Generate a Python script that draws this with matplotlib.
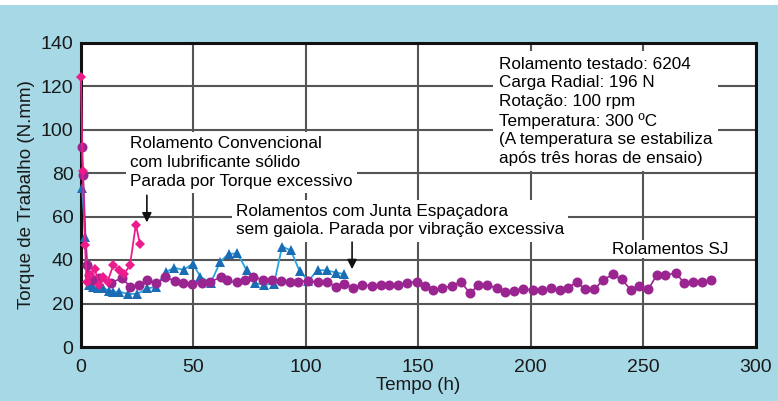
import matplotlib
matplotlib.use("Agg")
import matplotlib.pyplot as plt
from matplotlib.patches import Rectangle

plt.rcParams['font.family'] = ['Liberation Sans', 'DejaVu Sans']

# --- data ---
sj_t = [0.5, 1.2, 2.7, 3.7, 5, 8.4, 13.4, 18.5, 22, 25.9, 29.7, 33.6, 37.7, 42, 45.7,
        49.7, 53.9, 57.6, 62.3, 65.2, 69.4, 73, 76.8, 81.2, 85, 89.1, 93.1, 96.8, 101,
        105.7, 109.7, 113.4, 117.3, 121.2, 125.2, 129.4, 133.6, 137, 141.2, 145, 149.7,
        153.1, 156.8, 160.5, 165, 169, 173.1, 176.8, 180.8, 185, 188.7, 192.8, 196.8,
        201.2, 205, 209, 213.1, 216.6, 220.5, 224.2, 228.2, 232.4, 236.5, 240.5, 244.7,
        248.4, 252.4, 256.1, 259.8, 264.7, 268.4, 272.4, 276.4, 280.2]
sj_v = [92, 79, 37.7, 33, 31, 31.7, 29.6, 31.6, 27.8, 28.5, 30.6, 29.3, 32, 30.5, 29.6,
        29, 29.6, 30, 32, 30.6, 29.7, 30.8, 32.3, 30.8, 30.8, 30.5, 29.7, 30, 30.5,
        29.7, 30, 27.7, 28.8, 27.3, 28.5, 28.2, 28.5, 28.3, 28.5, 29.6, 30,
        28, 26.2, 27, 28, 30, 24.7, 28.5, 28.5, 27, 25.4, 25.9, 26.7,
        26.2, 26.2, 27, 26.2, 27, 30, 26.5, 26.5, 30.8, 33.4, 31.1, 26.2,
        28.2, 26.5, 33.1, 33.1, 33.9, 29.3, 30, 30, 30.8]

junta_t = [0.7, 2.2, 3.9, 5.7, 7.9, 10.1, 12.8, 14.6, 17.3, 21.2, 25.2, 29.7, 33.7, 37.8,
           41.5, 45.8, 49.9, 53.3, 57.9, 62.1, 65.8, 69.7, 73.8, 77.6, 81.7, 86, 89.6,
           93.5, 97.4, 101.3, 105.5, 109.5, 113.7, 117.3]
junta_v = [73, 50.5, 28.5, 27.4, 27, 27, 25.9, 25.4, 25.4, 24.4, 24.4, 27, 27.6, 34.4,
           36.4, 35.5, 38.3, 32.3, 29.5, 39.2, 42.8, 43, 35.4, 29.3, 28.7, 29, 46.2,
           44.4, 34.8, 30.5, 35.4, 35.2, 34.2, 33.5]

conv_t = [0.2, 1, 2, 2.7, 4, 6.3, 8.4, 9.8, 12, 14.6, 17.3, 19.3, 22, 24.6, 26.4]
conv_v = [124, 81, 47, 30, 33, 36, 28.5, 32, 30, 37.7, 35.2, 33.4, 37.7, 56.3, 47.5]

x_ticks = [0, 50, 100, 150, 200, 250, 300]
y_ticks = [0, 20, 40, 60, 80, 100, 120, 140]

bg = '#a6d8e6'
W, H = 778, 401
fig = plt.figure(figsize=(W / 100, H / 100), dpi=100, facecolor=bg)
fig.patches.append(Rectangle((0, 1 - 5 / H), 1, 5 / H, transform=fig.transFigure,
                             facecolor='white', edgecolor='none', zorder=0))

ax = fig.add_axes([80.5 / W, (H - 347) / H, 675 / W, (347 - 42.5) / H])
ax.set_facecolor('white')
ax.set_xlim(0, 300)
ax.set_ylim(0, 140)
ax.set_xticks(x_ticks)
ax.set_yticks(y_ticks)
ax.tick_params(length=0, labelsize=14, colors='#1a1a1a')
ax.tick_params(axis='x', pad=9)
ax.tick_params(axis='y', pad=5)
ax.grid(True, color='#555555', linewidth=1.5)
ax.set_axisbelow(True)
for s in ax.spines.values():
    s.set_linewidth(2.2)
    s.set_color('#111111')

ax.set_xlabel('Tempo (h)', fontsize=13.5, labelpad=0, color='#1a1a1a')
ax.set_ylabel('Torque de Trabalho (N.mm)', fontsize=13.5, labelpad=4, color='#1a1a1a')

ax.plot(sj_t, sj_v, color='#9b2590', lw=1.2, marker='o', ms=7.2,
        markeredgewidth=0, zorder=4, clip_on=False)
ax.plot(junta_t, junta_v, color='#2aa3dc', lw=1.3, marker='^', ms=6.5,
        markerfacecolor='#1a6db5', markeredgewidth=0, zorder=3, clip_on=False)
ax.plot(conv_t, conv_v, color='#ec1c8c', lw=1.3, marker='D', ms=5,
        markeredgewidth=0, zorder=5, clip_on=False)

box = dict(facecolor='white', edgecolor='none', pad=3)
ax.text(186, 133.5,
        'Rolamento testado: 6204\nCarga Radial: 196 N\nRotação: 100 rpm\nTemperatura: 300 ºC\n'
        '(A temperatura se estabiliza\napós três horas de ensaio)',
        fontsize=12.3, va='top', ha='left', linespacing=1.3,
        bbox=dict(facecolor='white', edgecolor='none', pad=4), zorder=3)
ax.text(22, 96.8,
        'Rolamento Convencional\ncom lubrificante sólido\nParada por Torque excessivo',
        fontsize=12.3, va='top', ha='left', linespacing=1.3, bbox=box, zorder=3)
ax.text(69, 65.8,
        'Rolamentos com Junta Espaçadora\nsem gaiola. Parada por vibração excessiva',
        fontsize=12.3, va='top', ha='left', linespacing=1.3, bbox=box, zorder=3)
ax.text(262, 41.5, 'Rolamentos SJ', fontsize=12.3, va='bottom', ha='center',
        bbox=dict(facecolor='white', edgecolor='none', pad=1), zorder=3)

arrow = dict(arrowstyle='-|>', color='#111111', lw=1.2, mutation_scale=14)
ax.annotate('', xy=(29.5, 56), xytext=(29.5, 71), arrowprops=arrow, zorder=6)
ax.annotate('', xy=(120.7, 34.5), xytext=(120.7, 49.5), arrowprops=arrow, zorder=6)

fig.savefig('out.png', dpi=100, facecolor=bg)
